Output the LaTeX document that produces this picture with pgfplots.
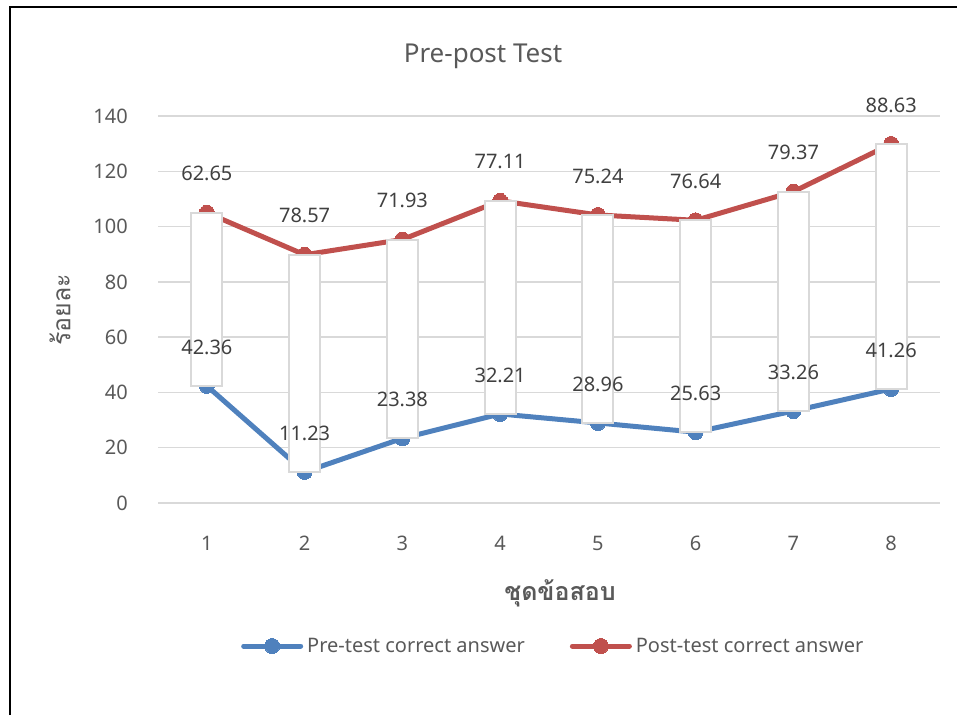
\documentclass[border=0pt]{standalone}
\usepackage{pgfplots}
\usepackage{pgfplotstable}
\pgfplotsset{compat=1.18}
\usepackage{fontspec}
\setmainfont{Noto Sans}
\newfontfamily\thaifont[Script=Thai]{Loma}
\definecolor{preblue}{HTML}{4F81BD}
\definecolor{postred}{HTML}{C0504D}
\definecolor{gridgray}{HTML}{D9D9D9}
\definecolor{txtgray}{HTML}{595959}
\definecolor{lbldark}{HTML}{404040}
\pgfplotstableread{
x pre diff post
1 42.36 62.65 105.01
2 11.23 78.57 89.80
3 23.38 71.93 95.31
4 32.21 77.11 109.32
5 28.96 75.24 104.20
6 25.63 76.64 102.27
7 33.26 79.37 112.63
8 41.26 88.63 129.89
}\data
\pgfplotsset{myaxis/.style={scale only axis, width=782pt, height=387pt,
  xmin=0.5, xmax=8.5, ymin=0, ymax=140, clip=false,
  at={(0pt,0pt)}, anchor=south west}}
\begin{document}
\begin{tikzpicture}
\path[use as bounding box] (-158pt,-212pt) rectangle (799pt,503pt);
\draw[line width=2pt, black] (-148pt,-212pt) -- (-148pt,496pt) -- (799pt,496pt);
% axis with grid and lines
\begin{axis}[myaxis,
  axis line style={draw=none}, tick style={draw=none},
  ytick={0,20,...,140}, xtick={1,...,8},
  ymajorgrids, grid style={line width=1.5pt, gridgray},
  /pgf/number format/assume math mode=true,
  tick label style={font=\fontsize{20pt}{24pt}\selectfont, text=txtgray, inner sep=0pt},
  yticklabel style={anchor=east, xshift=-30pt},
  xticklabel style={anchor=center, yshift=-40pt},
  legend columns=2,
  legend style={draw=none, fill=none, inner sep=0pt, at={(0.1061,-0.3695)}, anchor=west,
    nodes={inner sep=0pt, text=txtgray, font=\fontsize{20pt}{24pt}\selectfont},
    /tikz/every odd column/.append style={column sep=4pt},
    /tikz/every even column/.append style={column sep=45pt}},
  legend image code/.code={\draw[mark repeat=2,mark phase=2] plot coordinates {(0pt,0pt) (28.5pt,0pt) (57pt,0pt)};},
]
\addplot[preblue, line width=5pt, line join=round, line cap=round, mark=*, mark size=7.5pt, mark options={solid, line width=0pt}] table[x=x, y=pre] \data;
\addlegendentry{Pre-test correct answer}
\addplot[postred, line width=5pt, line join=round, line cap=round, mark=*, mark size=7.5pt, mark options={solid, line width=0pt}] table[x=x, y=post] \data;
\addlegendentry{Post-test correct answer}
\end{axis}
% up/down boxes
\begin{axis}[myaxis, hide axis, ybar stacked, bar width=31pt]
\addplot[draw=none, fill=none] table[x=x, y=pre] \data;
\addplot[draw=gridgray, fill=white, line width=2pt] table[x=x, y=diff] \data;
\end{axis}
% labels
\begin{axis}[myaxis, hide axis,
  every node near coord/.append style={anchor=center, yshift=39pt, text=lbldark, inner sep=0pt,
    font=\fontsize{20pt}{24pt}\selectfont}]
\addplot[draw=none, mark=none, nodes near coords, point meta=explicit symbolic] table[x=x, y=pre, meta=pre] \data;
\addplot[draw=none, mark=none, nodes near coords, point meta=explicit symbolic] table[x=x, y=post, meta=diff] \data;
\end{axis}
\node[text=txtgray, font=\fontsize{26pt}{30pt}\selectfont] at (325pt,447pt) {Pre-post Test};
\node[text=txtgray, rotate=90, font=\thaifont\fontsize{25pt}{30pt}\selectfont] at (-98pt,193pt) {ร้อยละ};
\node[text=txtgray, font=\thaifont\bfseries\fontsize{25pt}{30pt}\selectfont] at (402pt,-90pt) {ชุดข้อสอบ};
\end{tikzpicture}
\end{document}
